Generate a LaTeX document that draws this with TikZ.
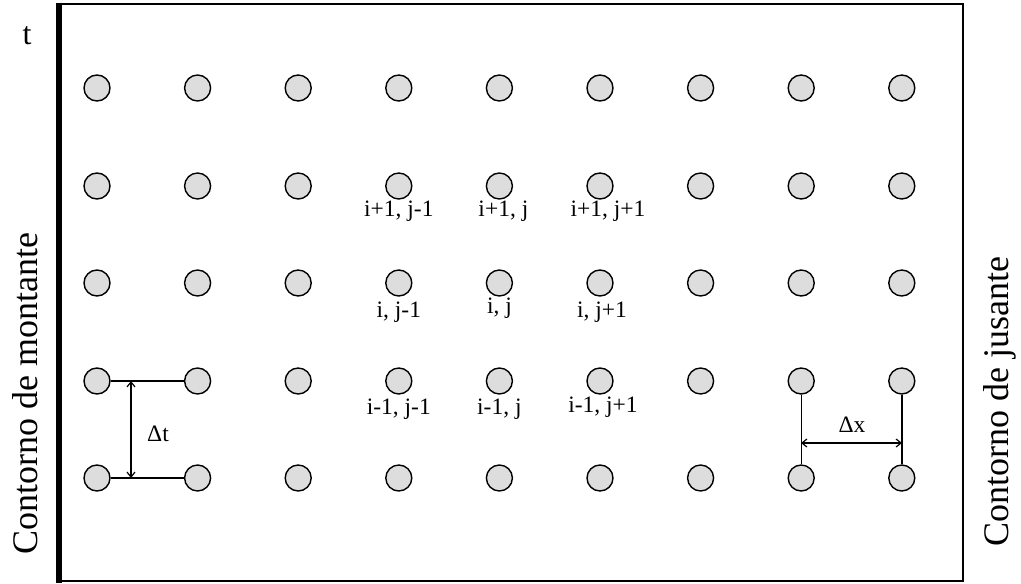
\documentclass[tikz,border=0pt]{standalone}
\usepackage{fontspec}
\setmainfont{Liberation Serif}
\usetikzlibrary{arrows.meta}
\definecolor{ptgray}{RGB}{221,221,221}
\begin{document}
\begin{tikzpicture}[x=1pt,y=-1pt,
  gridpt/.style={circle,draw=black,line width=1.4pt,fill=ptgray,minimum size=26pt,inner sep=0pt},
  lbl/.style={font=\fontsize{23.5}{26}\selectfont,inner sep=0pt},
  side/.style={font=\fontsize{36}{40}\selectfont,inner sep=0pt,rotate=90},
  conn/.style={line width=1.4pt},
  dim/.style={line width=1.2pt,{Straight Barb[length=5pt,width=8pt]}-{Straight Barb[length=5pt,width=8pt]}}]
\useasboundingbox (0,0) rectangle (1021,584);
% frame
\draw[line width=1.6pt] (59,4) -- (963,4) -- (963,581) -- (59,581);
\draw[line width=6pt] (59,2.5) -- (59,582.5);
% grid
\foreach \r/\y in {1/88,2/186,3/283,4/381,5/478}
  \foreach \c in {1,...,9}
    \node[gridpt] (n\r\c) at ({97+100.6*(\c-1)},\y) {};
% labels
\node[lbl,anchor=north] at ([yshift=-1pt]n24.south) {i+1, j-1};
\node[lbl,anchor=north] at ([xshift=4pt,yshift=-1pt]n25.south) {i+1, j};
\node[lbl,anchor=north] at ([xshift=8pt,yshift=-1pt]n26.south) {i+1, j+1};
\node[lbl,anchor=north] at ([yshift=-5pt]n34.south) {i, j-1};
\node[lbl,anchor=north] at ([yshift=-1pt]n35.south) {i, j};
\node[lbl,anchor=north] at ([xshift=2pt,yshift=-5pt]n36.south) {i, j+1};
\node[lbl,anchor=north] at ([yshift=-4pt]n44.south) {i-1, j-1};
\node[lbl,anchor=north] at ([yshift=-4pt]n45.south) {i-1, j};
\node[lbl,anchor=north] at ([xshift=3pt,yshift=-2pt]n46.south) {i-1, j+1};
% delta t
\draw[conn] (n41.east) -- (n42.west);
\draw[conn] (n51.east) -- (n52.west);
\coordinate (dt1) at (131,381);
\coordinate (dt2) at (131,478);
\draw[dim] (dt1) -- (dt2);
\node[lbl] (dtl) at (158,434) {Δt};
% delta x
\draw[conn] (n48.south) -- (n58.north);
\draw[conn] (n49.south) -- (n59.north);
\coordinate (dx1) at (801,443);
\coordinate (dx2) at (902,443);
\draw[dim] (dx1) -- (dx2);
\node[lbl] (dxl) at (852,425) {Δx};
% texts
\node[font=\fontsize{32}{34}\selectfont,inner sep=0pt] (tl) at (27,36) {t};
\node[side] (mont) at (25,394) {Contorno de montante};
\node[side] (jus) at (1000,402) {Contorno de jusante};
\end{tikzpicture}
\end{document}
